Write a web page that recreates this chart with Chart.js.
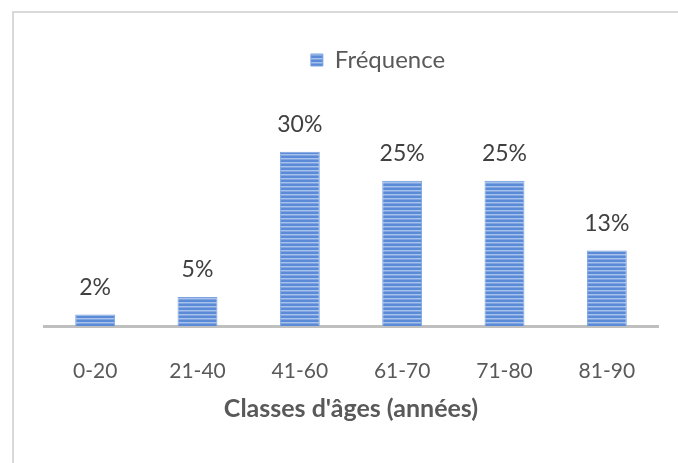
<!DOCTYPE html>
<html>
<head>
<meta charset="utf-8">
<script src="https://cdn.jsdelivr.net/npm/chart.js@4.4.1/dist/chart.umd.min.js"></script>
<style>
  html, body { margin: 0; padding: 0; background: #fff; overflow: hidden; }
  #wrap { position: relative; width: 678px; height: 463px; }
  #frame { position: absolute; left: 12px; top: 11px; width: 700px; height: 500px;
           border-left: 2px solid #d9d9d9; border-top: 2px solid #d9d9d9; box-sizing: border-box; }
  canvas { position: absolute; left: 0; top: 0; }
</style>
</head>
<body>
<div id="wrap">
  <div id="frame"></div>
  <canvas id="c" width="678" height="463"></canvas>
</div>
<script>
// Age classes and their share of cases (%)
const categories = ['0-20', '21-40', '41-60', '61-70', '71-80', '81-90'];
const frequencies = [2, 5, 30, 25, 25, 13];
const seriesName = 'Fréquence';
const xTitle = "Classes d'âges (années)";

const FONT = 'Lato, "Open Sans", sans-serif';

// Horizontal striped fill for the bars
function stripePattern() {
  const p = document.createElement('canvas');
  p.width = 8; p.height = 4;
  const g = p.getContext('2d');
  g.fillStyle = '#5b8bd6';
  g.fillRect(0, 0, 8, 4);
  g.fillStyle = '#a7c2ec';
  g.fillRect(0, 2, 8, 1);
  g.fillStyle = '#7fa4e0';
  g.fillRect(0, 3, 8, 1);
  return g.createPattern(p, 'repeat');
}

const ctx = document.getElementById('c').getContext('2d');
const fill = stripePattern();

// Percentage labels above each bar
const valueLabels = {
  id: 'valueLabels',
  afterDatasetsDraw(chart) {
    const c = chart.ctx;
    const meta = chart.getDatasetMeta(0);
    c.save();
    c.font = '23px ' + FONT;
    c.fillStyle = '#404040';
    c.textAlign = 'center';
    c.textBaseline = 'middle';
    meta.data.forEach((bar, i) => {
      c.fillText(frequencies[i] + '%', bar.x, bar.y - 27);
    });
    c.restore();
  }
};

// Legend sits a little right of the canvas centre
const legendShift = {
  id: 'legendShift',
  afterLayout(chart) {
    const lg = chart.legend;
    if (lg) { lg.left += 27; lg.right += 27; }
  }
};

new Chart(ctx, {
  type: 'bar',
  data: {
    labels: categories,
    datasets: [{
      label: seriesName,
      data: frequencies,
      backgroundColor: fill,
      borderColor: '#7aa3e0',
      borderWidth: 1,
      barPercentage: 0.39,
      categoryPercentage: 1.0
    }]
  },
  options: {
    responsive: false,
    animation: false,
    devicePixelRatio: 1,
    layout: { padding: { left: 44, right: 20, top: 18, bottom: 39 } },
    plugins: {
      legend: {
        display: true,
        position: 'top',
        labels: {
          boxWidth: 12, boxHeight: 12,
          color: '#595959',
          font: { family: FONT, size: 24 },
          padding: 30
        }
      },
      tooltip: { enabled: false }
    },
    scales: {
      x: {
        grid: { display: false },
        border: { display: true, color: '#bfbfbf', width: 3 },
        ticks: {
          color: '#595959',
          font: { family: FONT, size: 21 },
          padding: 25
        },
        title: {
          display: true,
          text: xTitle,
          color: '#595959',
          font: { family: FONT, size: 25, weight: 'bold' },
          padding: { top: 8, bottom: 0 }
        },
        afterFit(scale) { scale.height = 98; }
      },
      y: {
        display: false,
        min: 0,
        max: 42
      }
    }
  },
  plugins: [valueLabels, legendShift]
});
</script>
</body>
</html>
